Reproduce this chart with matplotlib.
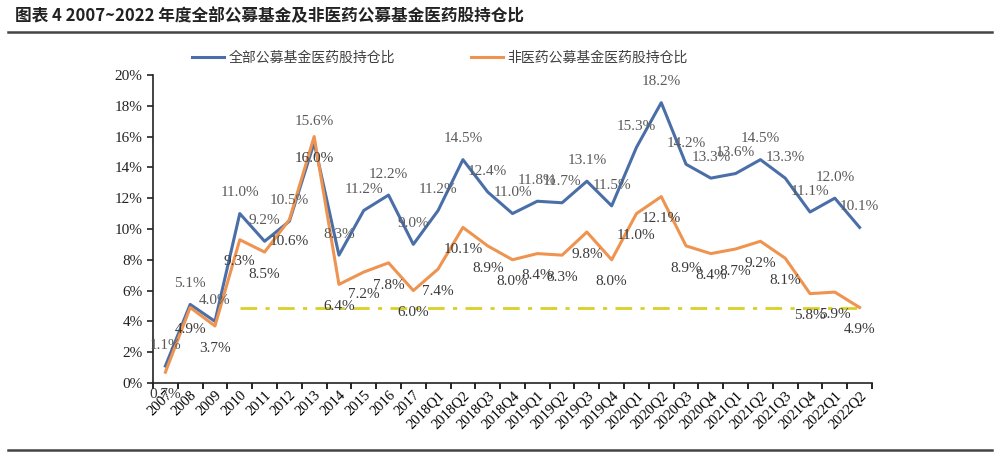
import numpy as np
import matplotlib.pyplot as plt
from matplotlib.ticker import FuncFormatter

plt.rcParams['font.family'] = ['Liberation Serif', 'Noto Sans CJK SC']

periods = ['2007', '2008', '2009', '2010', '2011', '2012', '2013', '2014', '2015', '2016', '2017',
           '2018Q1', '2018Q2', '2018Q3', '2018Q4', '2019Q1', '2019Q2', '2019Q3', '2019Q4',
           '2020Q1', '2020Q2', '2020Q3', '2020Q4', '2021Q1', '2021Q2', '2021Q3', '2021Q4',
           '2022Q1', '2022Q2']
all_funds = [1.1, 5.1, 4.0, 11.0, 9.2, 10.5, 15.6, 8.3, 11.2, 12.2, 9.0,
             11.2, 14.5, 12.4, 11.0, 11.8, 11.7, 13.1, 11.5,
             15.3, 18.2, 14.2, 13.3, 13.6, 14.5, 13.3, 11.1, 12.0, 10.1]
non_med_funds = [0.7, 4.9, 3.7, 9.3, 8.5, 10.6, 16.0, 6.4, 7.2, 7.8, 6.0,
                 7.4, 10.1, 8.9, 8.0, 8.4, 8.3, 9.8, 8.0,
                 11.0, 12.1, 8.9, 8.4, 8.7, 9.2, 8.1, 5.8, 5.9, 4.9]
ref_level = 4.9
ref_start = '2010'

blue = '#4a6fa8'
orange = '#ee9450'

fig = plt.figure(figsize=(10, 4.57), dpi=100)
ax = fig.add_axes([0.153, 0.162, 0.719, 0.674])

x = np.arange(len(periods))
ax.plot(x, all_funds, color=blue, lw=2.2, label='全部公募基金医药股持仓比', zorder=3)
ax.plot(x, non_med_funds, color=orange, lw=2.2, label='非医药公募基金医药股持仓比', zorder=3)
ax.hlines(ref_level, periods.index(ref_start), len(periods) - 1, color='#d8d028', lw=2,
          linestyle=(0, (6, 3, 1.5, 3)), zorder=2)

for xi, v in zip(x, all_funds):
    ax.annotate(f'{v:.1f}%', (xi, v), xytext=(0, 15), textcoords='offset points',
                ha='center', va='center', fontsize=11, color='#5a5a5a', zorder=4)
for xi, v in zip(x, non_med_funds):
    ax.annotate(f'{v:.1f}%', (xi, v), xytext=(0, -16), textcoords='offset points',
                ha='center', va='center', fontsize=11, color='#3a3a3a', zorder=4)

ax.set_xlim(-0.5, len(periods) - 0.5)
ax.set_ylim(0, 20)
ax.set_yticks(np.arange(0, 21, 2))
ax.yaxis.set_major_formatter(FuncFormatter(lambda v, p: f'{v:.0f}%'))
ax.tick_params(axis='y', labelsize=11, direction='out', length=4, width=1.2, colors='#222222')

ax.set_xticks(np.arange(-0.5, len(periods), 1))
ax.set_xticklabels([])
ax.tick_params(axis='x', which='major', direction='out', length=4, width=1.2)
ax.set_xticks(x, minor=True)
ax.set_xticklabels(periods, minor=True, rotation=45, ha='right', rotation_mode='anchor', fontsize=10.5)
ax.tick_params(axis='x', which='minor', length=0, pad=4)

for s in ['top', 'right']:
    ax.spines[s].set_visible(False)
for s in ['left', 'bottom']:
    ax.spines[s].set_linewidth(1.2)
    ax.spines[s].set_color('#222222')

leg = fig.legend(loc='center', bbox_to_anchor=(0.44, 0.873), ncol=2, frameon=False,
                 fontsize=10, columnspacing=5.5, handlelength=2.3, handletextpad=0.3)
for t in leg.get_texts():
    t.set_color('#404040')

fig.text(0.015, 0.965, '图表 4 2007~2022 年度全部公募基金及非医药公募基金医药股持仓比',
         fontsize=12, fontweight='bold', family=['Noto Sans CJK SC', 'DejaVu Sans'],
         ha='left', va='center', color='#222222')
fig.add_artist(plt.Line2D([0.008, 0.992], [0.93, 0.93], color='#444444', lw=1.8))
fig.add_artist(plt.Line2D([0.008, 0.992], [0.015, 0.015], color='#444444', lw=1.8))

fig.savefig('out.png', dpi=100)
